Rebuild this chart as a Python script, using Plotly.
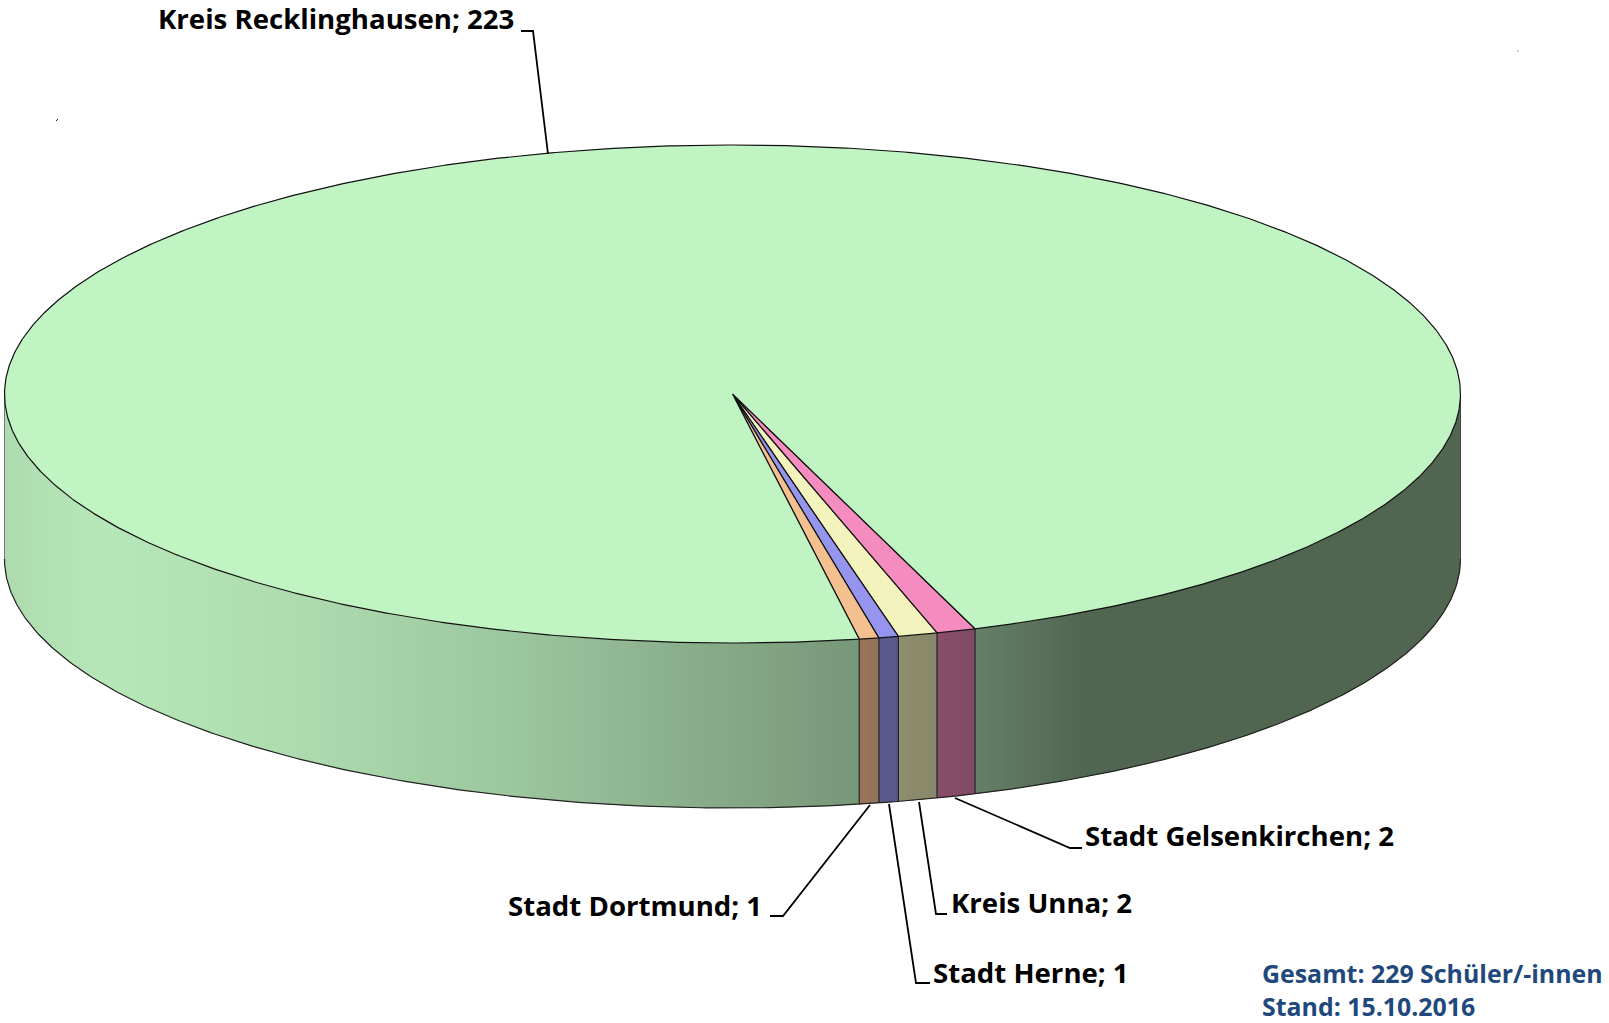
import numpy as np
import plotly.graph_objects as go

# Data, in drawing order (clockwise from the right-hand edge of the small slices)
categories = ["Stadt Gelsenkirchen", "Kreis Unna", "Stadt Herne", "Stadt Dortmund", "Kreis Recklinghausen"]
values = [2, 2, 1, 1, 223]
top_colors = ["#f48cbf", "#f3f3bd", "#9595f0", "#f5c08f", "#c1f4c3"]
label_pos = [(1083, 835), (949, 902), (931, 972), (506, 905), (156, 18)]
leaders = [
    [(955, 798), (1070, 848), (1082, 848)],
    [(919, 802), (936, 914), (947, 914)],
    [(889, 804), (916, 983), (930, 983)],
    [(870, 805), (783, 916), (770, 916)],
    [(548, 154), (533, 31), (521, 31)],
]
note_lines = ["Gesamt: 229 Schüler/-innen", "Stand: 15.10.2016"]

# Projection of the pie
CX, CY, RX, RY, DEPTH = 732.5, 394.0, 728.0, 249.0, 165.0
START_DEG = 19.46
SHADE_X = [5, 100, 300, 500, 700, 858, 975, 1080, 1461]
SHADE_F = [0.90, 0.95, 0.90, 0.82, 0.71, 0.62, 0.53, 0.42, 0.42]


def rgb(hex_color):
    return np.array([int(hex_color[i:i + 2], 16) for i in (1, 3, 5)], dtype=float)


def shade(hex_color, x):
    f = np.interp(x, SHADE_X, SHADE_F)
    c = np.clip(rgb(hex_color) * f, 0, 255).astype(int)
    return f"rgb({c[0]},{c[1]},{c[2]})"


def px(t):
    return CX + RX * np.sin(np.radians(t))


def py(t):
    return CY + RY * np.cos(np.radians(t))


total = sum(values)
edges = [START_DEG]
for v in values:
    edges.append(edges[-1] - 360.0 * v / total)

fig = go.Figure()


def poly(xs, ys, fill=None, line="rgba(0,0,0,0)", width=0.0):
    fig.add_trace(go.Scatter(
        x=list(xs), y=list(ys), mode="lines",
        fill="toself" if fill else "none", fillcolor=fill,
        line=dict(color=line, width=width),
        hoverinfo="skip", showlegend=False,
    ))


# Side wall: overlapping strips, shaded by horizontal position
def side_range(a, b, color, step=0.6):
    """a > b, degrees; draws the visible front part only."""
    a, b = min(a, 90), max(b, -90)
    if a <= b:
        return
    n = max(int((a - b) / step), 1)
    ts = np.linspace(a, b, n + 1)
    for k in range(n):
        t0, t1 = ts[k], ts[min(k + 2, n)]
        col = shade(color, (px(ts[k]) + px(ts[k + 1])) / 2)
        xs = [px(t0), px(ts[k + 1]), px(t1), px(t1), px(ts[k + 1]), px(t0), px(t0)]
        ys = [py(t0), py(ts[k + 1]), py(t1),
              py(t1) + DEPTH, py(ts[k + 1]) + DEPTH, py(t0) + DEPTH, py(t0)]
        poly(xs, ys, fill=col)


for i, c in enumerate(top_colors):
    a, b = edges[i], edges[i + 1]
    side_range(a, b, c)
    if b < -270:  # the large slice also wraps round to the right-hand side
        side_range(a + 360, b + 360, c)

# Side outlines
front = np.linspace(90, -90, 400)
poly(px(front), py(front) + DEPTH, line="#222222", width=1.2)
poly([px(90), px(90)], [py(90), py(90) + DEPTH], line="#444444", width=1)
poly([px(-90), px(-90)], [py(-90), py(-90) + DEPTH], line="#777777", width=1)
for e in edges[:-1]:
    poly([px(e), px(e)], [py(e), py(e) + DEPTH], line="#222222", width=1.2)

# Top face
for i, c in enumerate(top_colors):
    ts = np.linspace(edges[i], edges[i + 1], max(int((edges[i] - edges[i + 1]) * 3), 8))
    xs = [CX, *px(ts), CX]
    ys = [CY, *py(ts), CY]
    poly(xs, ys, fill=c, line="#111111", width=1.2)

# Leader lines
for pts in leaders:
    poly([p[0] for p in pts], [p[1] for p in pts], line="#000000", width=1.8)

# Tiny stray marks in the source picture
poly([56, 58], [121, 119], line="#222222", width=1)
poly([1517.5, 1518.5], [51, 51], line="#555555", width=1)

annotations = []
for name, v, (lx, ly) in zip(categories, values, label_pos):
    annotations.append(dict(
        x=lx, y=ly, xref="x", yref="y", xanchor="left", yanchor="middle", showarrow=False,
        text=f"{name}; {v}", font=dict(family="Open Sans", size=27.6, color="#000000", weight=700),
    ))
for line, ly in zip(note_lines, (972.5, 1005.8)):
    annotations.append(dict(
        x=1260, y=ly, xref="x", yref="y", xanchor="left", yanchor="middle", showarrow=False,
        text=line, font=dict(family="Open Sans", size=24.9, color="#1f497d", weight=700),
    ))

fig.update_layout(
    width=1609, height=1023, autosize=False,
    margin=dict(l=0, r=0, t=0, b=0),
    paper_bgcolor="white", plot_bgcolor="white",
    xaxis=dict(range=[0, 1609], visible=False, fixedrange=True),
    yaxis=dict(range=[1023, 0], visible=False, fixedrange=True),
    annotations=annotations,
)

fig.write_html("out.html", config={"displayModeBar": False},
               post_script="document.body.style.margin='0';document.body.style.overflow='hidden';")
